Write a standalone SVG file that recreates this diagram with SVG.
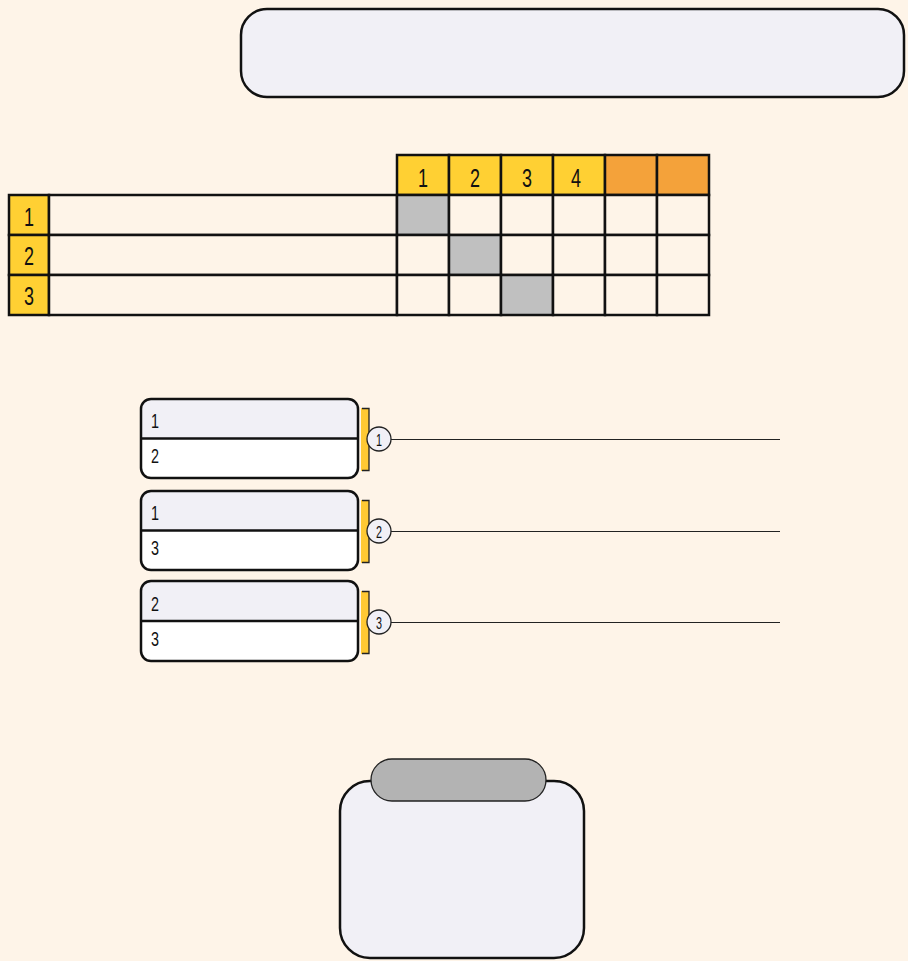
<svg xmlns="http://www.w3.org/2000/svg" width="908" height="961" viewBox="0 0 908 961">
<style>
.t{font-family:"Liberation Sans","DejaVu Sans",sans-serif;fill:#111}
.h{font-size:25px;text-anchor:middle}
.b{font-size:21px}
.c{font-size:16px;text-anchor:middle}
.cell{fill:#FEF4E8;stroke:#111;stroke-width:2.5}
.y{fill:#FFD033;stroke:#111;stroke-width:2.5}
.o{fill:#F4A23A;stroke:#111;stroke-width:2.5}
.g{fill:#C0C0C0;stroke:#111;stroke-width:2.5}
.box{fill:#F1F0F6;stroke:#111;stroke-width:2.5}
.conn{stroke:#222;stroke-width:1;fill:none}
</style>
<rect width="908" height="961" fill="#FEF4E8"/>
<g id="title">
<rect class="box" x="241" y="9" width="663" height="88" rx="26" ry="26"/>
</g>
<g id="matrix">
<rect class="y" x="397" y="155" width="52" height="40"/>
<rect class="y" x="449" y="155" width="52" height="40"/>
<rect class="y" x="501" y="155" width="52" height="40"/>
<rect class="y" x="553" y="155" width="52" height="40"/>
<rect class="o" x="605" y="155" width="52" height="40"/>
<rect class="o" x="657" y="155" width="52" height="40"/>
<text class="t h" x="423" y="187" textLength="10" lengthAdjust="spacingAndGlyphs">1</text>
<text class="t h" x="475" y="187" textLength="10" lengthAdjust="spacingAndGlyphs">2</text>
<text class="t h" x="527" y="187" textLength="10" lengthAdjust="spacingAndGlyphs">3</text>
<text class="t h" x="576" y="187" textLength="10" lengthAdjust="spacingAndGlyphs">4</text>
<rect class="y" x="9" y="195" width="40" height="40"/>
<rect class="y" x="9" y="235" width="40" height="40"/>
<rect class="y" x="9" y="275" width="40" height="40"/>
<text class="t h" x="29" y="226" textLength="10" lengthAdjust="spacingAndGlyphs">1</text>
<text class="t h" x="29" y="265" textLength="10" lengthAdjust="spacingAndGlyphs">2</text>
<text class="t h" x="29" y="305" textLength="10" lengthAdjust="spacingAndGlyphs">3</text>
<rect class="cell" x="49" y="195" width="348" height="40"/>
<rect class="cell" x="49" y="235" width="348" height="40"/>
<rect class="cell" x="49" y="275" width="348" height="40"/>
<g>
<rect class="g" x="397" y="195" width="52" height="40"/>
<rect class="cell" x="449" y="195" width="52" height="40"/>
<rect class="cell" x="501" y="195" width="52" height="40"/>
<rect class="cell" x="553" y="195" width="52" height="40"/>
<rect class="cell" x="605" y="195" width="52" height="40"/>
<rect class="cell" x="657" y="195" width="52" height="40"/>
<rect class="cell" x="397" y="235" width="52" height="40"/>
<rect class="g" x="449" y="235" width="52" height="40"/>
<rect class="cell" x="501" y="235" width="52" height="40"/>
<rect class="cell" x="553" y="235" width="52" height="40"/>
<rect class="cell" x="605" y="235" width="52" height="40"/>
<rect class="cell" x="657" y="235" width="52" height="40"/>
<rect class="cell" x="397" y="275" width="52" height="40"/>
<rect class="cell" x="449" y="275" width="52" height="40"/>
<rect class="g" x="501" y="275" width="52" height="40"/>
<rect class="cell" x="553" y="275" width="52" height="40"/>
<rect class="cell" x="605" y="275" width="52" height="40"/>
<rect class="cell" x="657" y="275" width="52" height="40"/>
</g>
</g>
<g id="connectors">
<line class="conn" x1="391" y1="439.5" x2="780" y2="439.5"/>
<line class="conn" x1="391" y1="531.5" x2="780" y2="531.5"/>
<line class="conn" x1="391" y1="622.5" x2="780" y2="622.5"/>
</g>
<g id="pair1">
<path d="M151,399 H348 a10,10 0 0 1 10,10 V438.5 H141 V409 a10,10 0 0 1 10,-10 Z" fill="#F1F0F6"/>
<path d="M141,438.5 H358 V468 a10,10 0 0 1 -10,10 H151 a10,10 0 0 1 -10,-10 Z" fill="#FFFFFF"/>
<rect x="141" y="399" width="217" height="79" rx="10" fill="none" stroke="#111" stroke-width="2.5"/>
<line x1="141" y1="438.5" x2="358" y2="438.5" stroke="#111" stroke-width="2.5"/>
<text class="t b" x="151" y="428" textLength="8" lengthAdjust="spacingAndGlyphs">1</text>
<text class="t b" x="151" y="463" textLength="8" lengthAdjust="spacingAndGlyphs">2</text>
<rect x="361" y="408" width="8" height="63" fill="#FFC933"/>
<path d="M362,408.5 H369 V470.5 H362" fill="none" stroke="#222" stroke-width="1.3"/>
<circle cx="379" cy="439" r="12" fill="#F1F0F6" stroke="#222" stroke-width="1.3"/>
<text class="t c" x="379" y="446" textLength="6" lengthAdjust="spacingAndGlyphs">1</text>
</g>
<g id="pair2">
<path d="M151,491 H348 a10,10 0 0 1 10,10 V530.5 H141 V501 a10,10 0 0 1 10,-10 Z" fill="#F1F0F6"/>
<path d="M141,530.5 H358 V560 a10,10 0 0 1 -10,10 H151 a10,10 0 0 1 -10,-10 Z" fill="#FFFFFF"/>
<rect x="141" y="491" width="217" height="79" rx="10" fill="none" stroke="#111" stroke-width="2.5"/>
<line x1="141" y1="530.5" x2="358" y2="530.5" stroke="#111" stroke-width="2.5"/>
<text class="t b" x="151" y="520" textLength="8" lengthAdjust="spacingAndGlyphs">1</text>
<text class="t b" x="151" y="555" textLength="8" lengthAdjust="spacingAndGlyphs">3</text>
<rect x="361" y="500" width="8" height="63" fill="#FFC933"/>
<path d="M362,500.5 H369 V562.5 H362" fill="none" stroke="#222" stroke-width="1.3"/>
<circle cx="379" cy="531" r="12" fill="#F1F0F6" stroke="#222" stroke-width="1.3"/>
<text class="t c" x="379" y="538" textLength="6" lengthAdjust="spacingAndGlyphs">2</text>
</g>
<g id="pair3">
<path d="M151,581 H348 a10,10 0 0 1 10,10 V621 H141 V591 a10,10 0 0 1 10,-10 Z" fill="#F1F0F6"/>
<path d="M141,621 H358 V651 a10,10 0 0 1 -10,10 H151 a10,10 0 0 1 -10,-10 Z" fill="#FFFFFF"/>
<rect x="141" y="581" width="217" height="80" rx="10" fill="none" stroke="#111" stroke-width="2.5"/>
<line x1="141" y1="621" x2="358" y2="621" stroke="#111" stroke-width="2.5"/>
<text class="t b" x="151" y="611" textLength="8" lengthAdjust="spacingAndGlyphs">2</text>
<text class="t b" x="151" y="646" textLength="8" lengthAdjust="spacingAndGlyphs">3</text>
<rect x="361" y="591" width="8" height="63" fill="#FFC933"/>
<path d="M362,591.5 H369 V653.5 H362" fill="none" stroke="#222" stroke-width="1.3"/>
<circle cx="379" cy="622" r="12" fill="#F1F0F6" stroke="#222" stroke-width="1.3"/>
<text class="t c" x="379" y="629" textLength="6" lengthAdjust="spacingAndGlyphs">3</text>
</g>
<g id="container">
<rect class="box" x="340" y="781" width="244" height="177" rx="30" ry="30"/>
<rect x="371" y="759" width="175" height="42" rx="21" ry="21" fill="#B3B3B3" stroke="#222" stroke-width="1.3"/>
</g>
</svg>
